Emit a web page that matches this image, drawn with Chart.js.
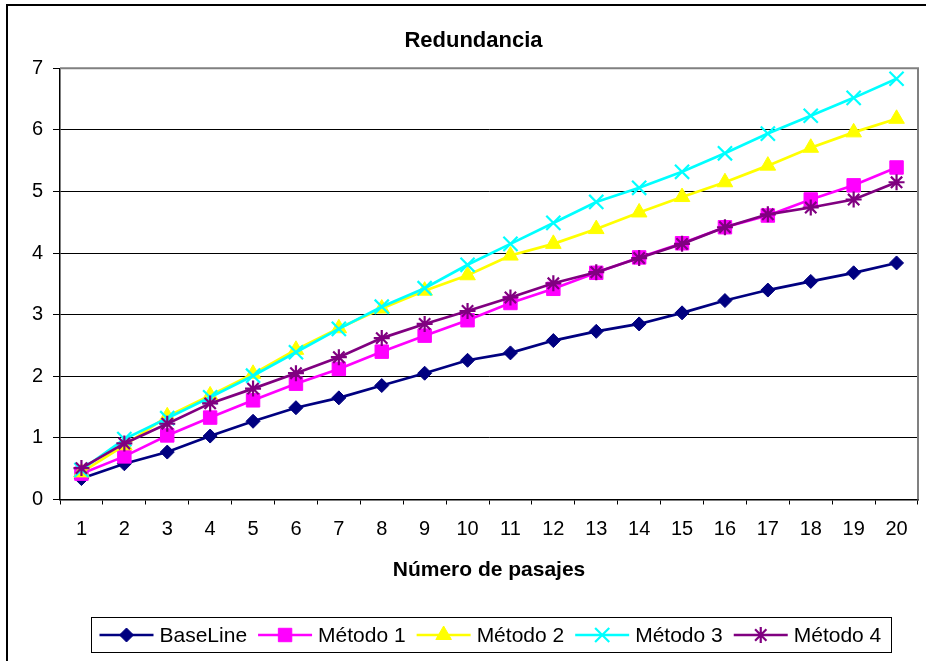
<!DOCTYPE html>
<html>
<head>
<meta charset="utf-8">
<title>Redundancia</title>
<script src="https://cdn.jsdelivr.net/npm/chart.js@4.4.1/dist/chart.umd.min.js"></script>
<style>
  html, body { margin: 0; padding: 0; background: #ffffff; }
  #wrap { width: 926px; height: 661px; position: relative; overflow: hidden; }
  canvas { display: block; }
</style>
</head>
<body>
<div id="wrap"><canvas id="chart" width="926" height="661"></canvas></div>
<script>
// Number of passages (x categories)
const pasajes = ['1', '2', '3', '4', '5', '6', '7', '8', '9', '10',
                 '11', '12', '13', '14', '15', '16', '17', '18', '19', '20'];

// Redundancy per method
const baseLine = [0.34, 0.58, 0.77, 1.03, 1.27, 1.49, 1.65, 1.85, 2.05, 2.26,
                  2.38, 2.58, 2.73, 2.85, 3.03, 3.23, 3.40, 3.54, 3.68, 3.84];
const metodo1  = [0.42, 0.70, 1.04, 1.33, 1.61, 1.88, 2.12, 2.40, 2.66, 2.91,
                  3.19, 3.42, 3.68, 3.93, 4.16, 4.42, 4.61, 4.87, 5.10, 5.39];
const metodo2  = [0.44, 0.88, 1.35, 1.69, 2.04, 2.43, 2.78, 3.10, 3.39, 3.64,
                  3.96, 4.15, 4.39, 4.66, 4.91, 5.15, 5.42, 5.71, 5.96, 6.18];
const metodo3  = [0.48, 0.98, 1.32, 1.66, 2.01, 2.39, 2.77, 3.13, 3.43, 3.81,
                  4.15, 4.49, 4.83, 5.06, 5.32, 5.62, 5.94, 6.23, 6.52, 6.83];
const metodo4  = [0.51, 0.91, 1.23, 1.56, 1.80, 2.05, 2.31, 2.62, 2.85, 3.06,
                  3.28, 3.51, 3.69, 3.92, 4.15, 4.42, 4.63, 4.74, 4.87, 5.15];

const seriesNames = ['BaseLine', 'Método 1', 'Método 2', 'Método 3', 'Método 4'];
const yMin = 0;
const yMax = 7;
const yStep = 1;

const FONT = '"Liberation Sans", Arial, Helvetica, sans-serif';

// Marker look for each series
const styles = [
  { color: '#000080', pointStyle: 'rectRot',  radius: 7,   pbw: 1 },
  { color: '#FF00FF', pointStyle: 'rect',     radius: 9.5, pbw: 1 },
  { color: '#FFFF00', pointStyle: 'triangle', radius: 9,   pbw: 1 },
  { color: '#00FFFF', pointStyle: 'crossRot', radius: 10,  pbw: 2.2 },
  { color: '#800080', pointStyle: 'star',     radius: 8,   pbw: 2.2 }
];

const values = [baseLine, metodo1, metodo2, metodo3, metodo4];

const datasets = values.map((vals, i) => ({
  label: seriesNames[i],
  data: vals,
  borderColor: styles[i].color,
  backgroundColor: styles[i].color,
  borderWidth: 2.7,
  tension: 0,
  pointStyle: styles[i].pointStyle,
  pointRadius: styles[i].radius,
  pointHoverRadius: styles[i].radius,
  pointBackgroundColor: styles[i].color,
  pointBorderColor: styles[i].color,
  pointBorderWidth: styles[i].pbw,
  clip: false,
  order: values.length - 1 - i   // later series are painted on top
}));

// Outer frame and the grey plot-area edges
const framePlugin = {
  id: 'frame',
  beforeDraw(chart) {
    const ctx = chart.ctx;
    ctx.save();
    ctx.fillStyle = '#ffffff';
    ctx.fillRect(0, 0, chart.width, chart.height);
    ctx.strokeStyle = '#000000';
    ctx.lineWidth = 2;
    ctx.strokeRect(7, 5, chart.width + 40, chart.height + 40);
    ctx.restore();
  },
  beforeDatasetsDraw(chart) {
    const { ctx, chartArea: a } = chart;
    ctx.save();
    ctx.strokeStyle = '#808080';
    ctx.lineWidth = 2;
    ctx.beginPath();
    ctx.moveTo(a.left, a.top);
    ctx.lineTo(a.right, a.top);
    ctx.lineTo(a.right, a.bottom);
    ctx.stroke();
    ctx.restore();
  }
};

// Boxed legend with a line sample and marker for each series
const legendPlugin = {
  id: 'boxLegend',
  afterDraw(chart) {
    const { ctx, chartArea: a } = chart;
    ctx.save();
    ctx.font = '21px ' + FONT;
    const lineLen = 54, gapText = 6, gapItem = 11, padL = 8, padR = 10;
    const widths = chart.data.datasets.map(d => ctx.measureText(d.label).width);
    let total = padL + padR;
    widths.forEach((w, i) => { total += lineLen + gapText + w + (i < widths.length - 1 ? gapItem : 0); });
    const boxTop = 617, boxH = 35;
    const cx = (a.left + a.right) / 2 + 1.5;
    const boxLeft = Math.round(cx - total / 2) + 0.5;
    ctx.strokeStyle = '#000000';
    ctx.lineWidth = 1;
    ctx.strokeRect(boxLeft, boxTop + 0.5, Math.round(total), boxH);
    const cy = boxTop + boxH / 2 + 0.5;
    let x = boxLeft + padL;
    chart.data.datasets.forEach((d, i) => {
      ctx.strokeStyle = d.borderColor;
      ctx.lineWidth = 2.5;
      ctx.beginPath();
      ctx.moveTo(x, cy);
      ctx.lineTo(x + lineLen, cy);
      ctx.stroke();
      if (Chart.helpers && Chart.helpers.drawPoint) {
        ctx.fillStyle = d.pointBackgroundColor;
        ctx.strokeStyle = d.pointBorderColor;
        ctx.lineWidth = d.pointBorderWidth;
        Chart.helpers.drawPoint(ctx, {
          pointStyle: d.pointStyle,
          radius: d.pointRadius,
          rotation: 0,
          borderWidth: d.pointBorderWidth
        }, x + lineLen / 2, cy);
      }
      ctx.fillStyle = '#000000';
      ctx.textBaseline = 'middle';
      ctx.textAlign = 'left';
      ctx.font = '21px ' + FONT;
      ctx.fillText(d.label, x + lineLen + gapText, cy + 1);
      x += lineLen + gapText + widths[i] + gapItem;
    });
    ctx.restore();
  }
};

new Chart(document.getElementById('chart'), {
  type: 'line',
  data: { labels: pasajes, datasets },
  options: {
    responsive: false,
    devicePixelRatio: 1,
    animation: false,
    events: [],
    layout: {
      autoPadding: false,
      padding: { left: 29, right: 8, top: 0, bottom: 71.5 }
    },
    plugins: {
      legend: { display: false },
      tooltip: { enabled: false },
      title: {
        display: true,
        text: 'Redundancia',
        color: '#000000',
        font: { family: FONT, size: 22, weight: 'bold' },
        padding: { top: 28, bottom: 13.9 }
      }
    },
    scales: {
      x: {
        type: 'category',
        offset: true,
        grid: {
          offset: true,
          drawOnChartArea: false,
          drawTicks: true,
          tickLength: 5,
          color: '#000000',
          lineWidth: 1
        },
        border: { color: '#000000', width: 1.5 },
        ticks: {
          color: '#000000',
          font: { family: FONT, size: 20, lineHeight: 2.4 },
          padding: 1,
          maxRotation: 0,
          autoSkip: false
        },
        title: {
          display: true,
          text: 'Número de pasajes',
          color: '#000000',
          font: { family: FONT, size: 21, weight: 'bold' },
          padding: { top: 0, bottom: 7 }
        },
        afterFit(scale) {
          scale.height = 90;
          scale.paddingLeft = 0;
          scale.paddingRight = 0;
        }
      },
      y: {
        min: yMin,
        max: yMax,
        ticks: {
          stepSize: yStep,
          color: '#000000',
          font: { family: FONT, size: 20 },
          padding: 10
        },
        grid: {
          color: '#000000',
          lineWidth: 1,
          tickLength: 7,
          drawTicks: true
        },
        border: { color: '#000000', width: 1.5 },
        afterFit(scale) { scale.width = 31; }
      }
    }
  },
  plugins: [framePlugin, legendPlugin]
});
</script>
</body>
</html>
